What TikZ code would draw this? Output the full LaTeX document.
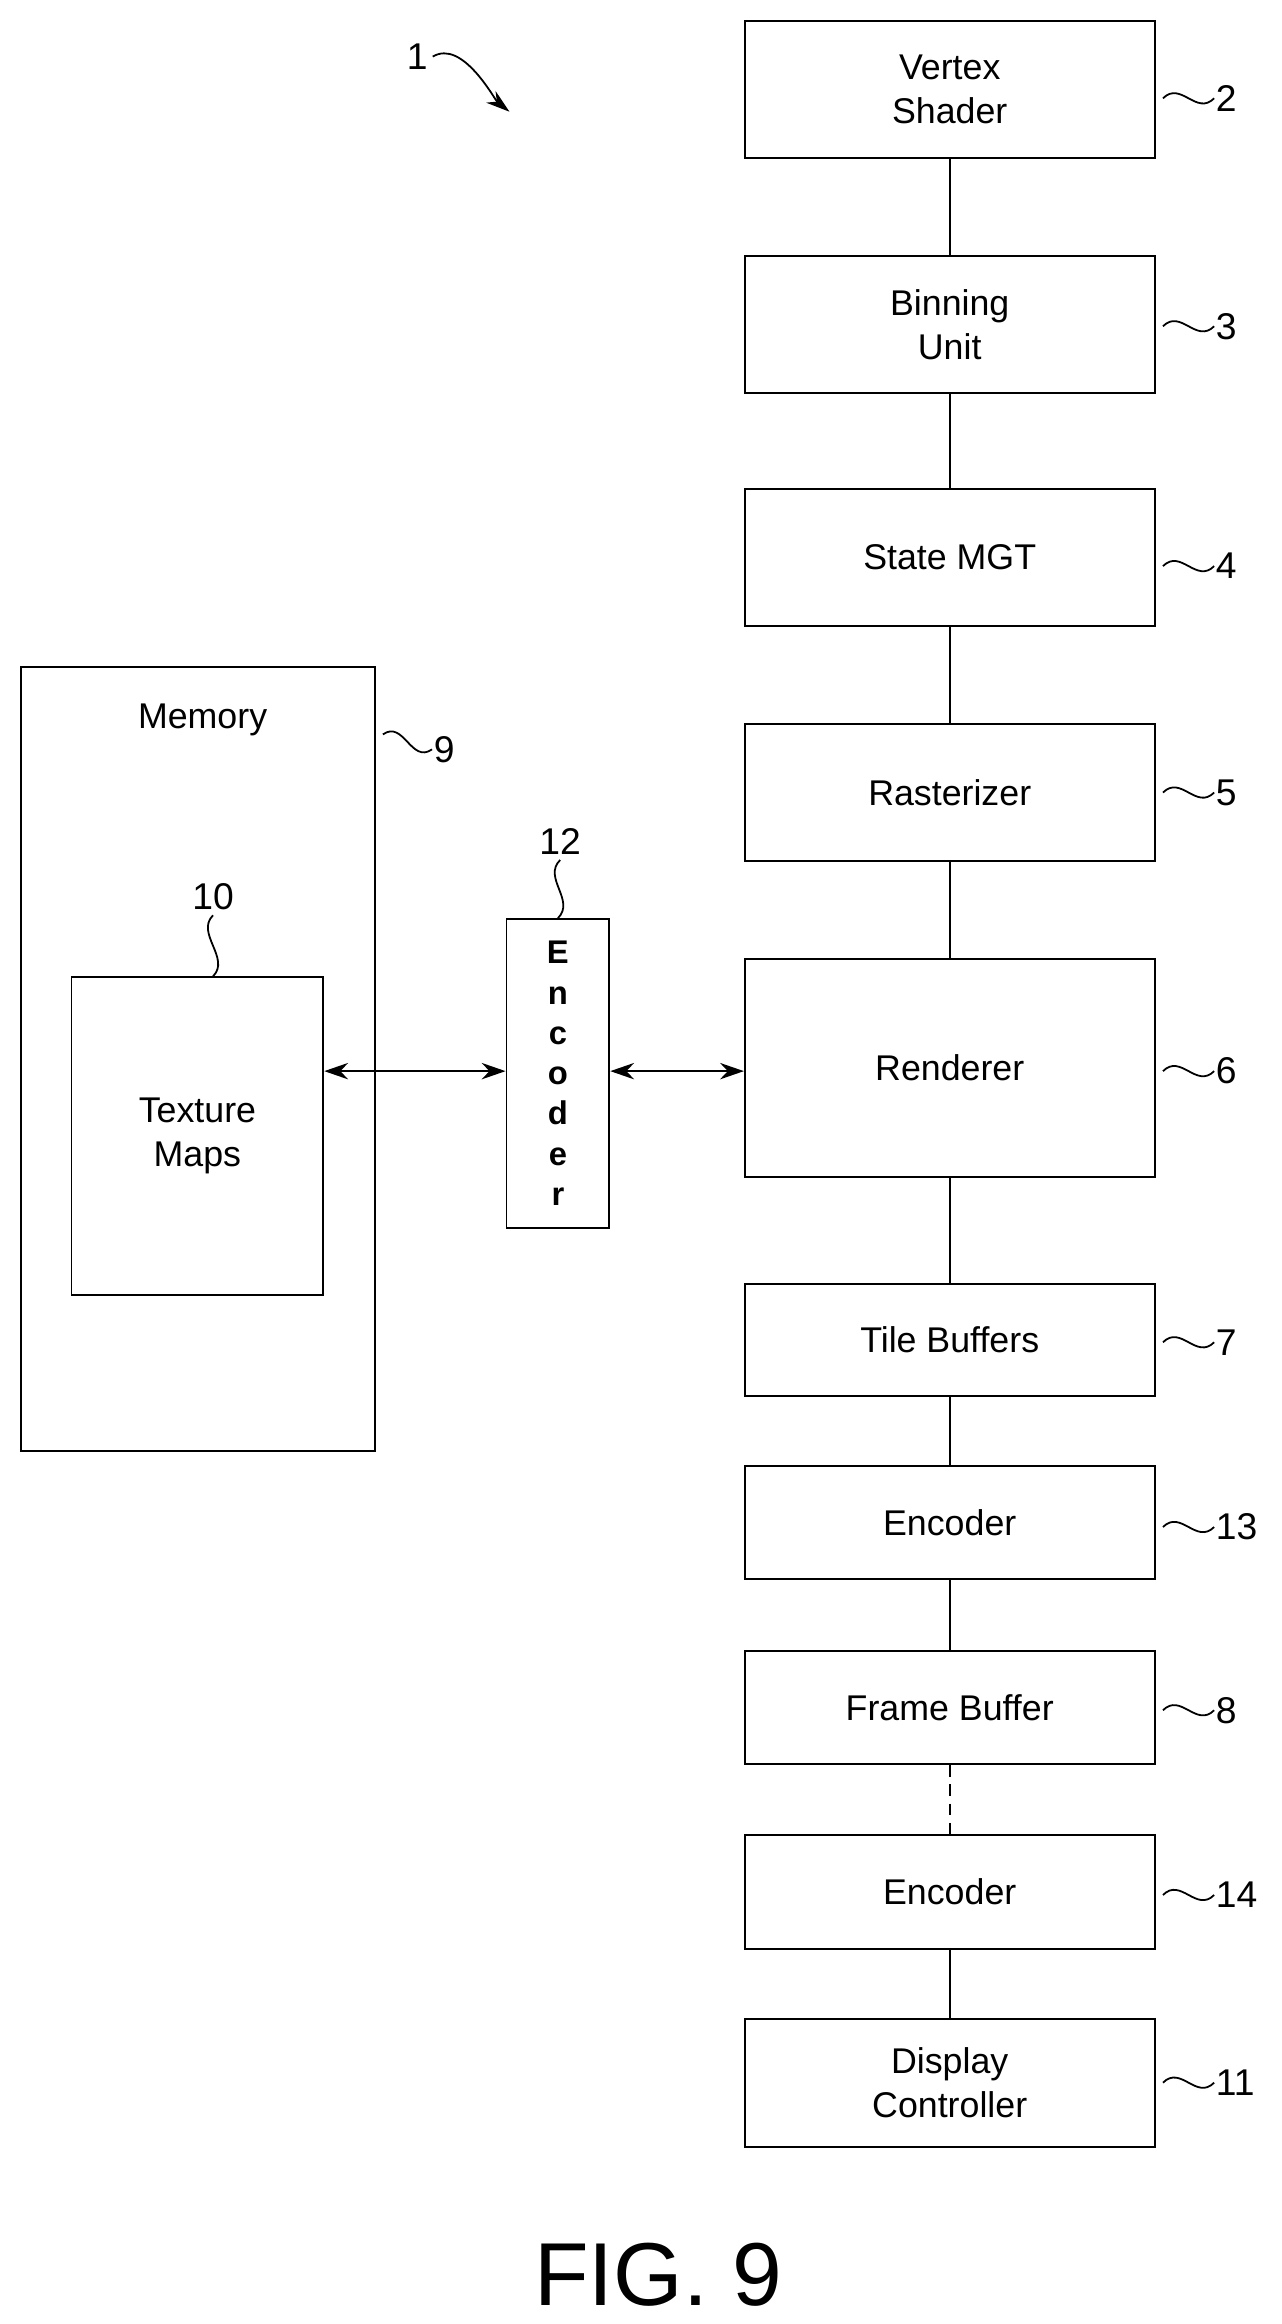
\documentclass[tikz,border=0pt]{standalone}
\usepackage{fontspec}
\setmainfont{Liberation Sans}
\usetikzlibrary{arrows.meta}
\begin{document}
\begin{tikzpicture}[x=1pt,y=-1pt,
  box/.style={draw,line width=1.3pt,align=center,font=\fontsize{24}{29}\selectfont,inner sep=0pt},
  lab/.style={font=\fontsize{25}{30}\selectfont,anchor=west,inner sep=1pt},
  sq/.style={line width=1.2pt},
  conn/.style={line width=1.2pt},
  dar/.style={line width=1.2pt,{Stealth[length=16pt,width=11pt]}-{Stealth[length=16pt,width=11pt]}}]
\useasboundingbox (0,0) rectangle (860,1560);
\def\bx#1#2#3#4{\node[box,minimum width=275pt,minimum height=#3pt] (#1) at (637.5,#2) {#4};}
\bx{vs}{60}{92}{Vertex\\Shader}
\bx{bu}{218}{92}{Binning\\Unit}
\bx{sm}{374}{92}{State MGT}
\bx{ra}{532}{92}{Rasterizer}
\bx{re}{717}{146}{Renderer}
\bx{tb}{899.5}{75}{Tile Buffers}
\bx{e13}{1022}{76}{Encoder}
\bx{fb}{1146}{76}{Frame Buffer}
\bx{e14}{1270}{76}{Encoder}
\bx{dc}{1398}{86}{Display\\Controller}
\draw[conn] (vs) -- (bu); \draw[conn] (bu) -- (sm); \draw[conn] (sm) -- (ra);
\draw[conn] (ra) -- (re); \draw[conn] (re) -- (tb); \draw[conn] (tb) -- (e13);
\draw[conn] (e13) -- (fb); \draw[conn,dashed,dash pattern=on 8pt off 5pt] (fb) -- (e14); \draw[conn] (e14) -- (dc);
\node[draw,line width=1.3pt,minimum width=238pt,minimum height=526pt,inner sep=0pt] (mem) at (133,711) {};
\node[font=\fontsize{24}{29}\selectfont] (memt) at (136,483) {Memory};
\node[box,minimum width=169pt,minimum height=213pt] (tm) at (132.5,762.5) {Texture\\Maps};
\node[box,minimum width=69pt,minimum height=207pt,font=\bfseries\fontsize{22}{27}\selectfont] (enc) at (374.5,720.5) {E\\n\\c\\o\\d\\e\\r};
\draw[dar] (tm.east |- 0,719) -- (enc.west |- 0,719);
\draw[dar] (enc.east |- 0,719) -- (re.west |- 0,719);
\foreach \b/\y/\t in {vs/66/2,bu/219/3,sm/380/4,ra/532/5,re/719/6,tb/901/7,e13/1025/13,fb/1148/8,e14/1272/14,dc/1398/11}{
  \node[lab] (l\b) at (815,\y) {\t};
  \draw[sq] (\b.east |- l\b.west) ++(5,0) coordinate (s\b) .. controls +(12,-12) and +(-12,12) .. (l\b.west);
}
\node[lab] (l9) at (290,503) {9};
\draw[sq] (257,493) .. controls +(14,-10) and +(-14,10) .. (l9.west);
\node[font=\fontsize{25}{30}\selectfont] (l10) at (143,602) {10};
\draw[sq] (l10.south) .. controls +(-12,12) and +(12,-12) .. (tm.north -| 143,0);
\node[font=\fontsize{25}{30}\selectfont] (l12) at (376,565) {12};
\draw[sq] (l12.south) .. controls +(-12,12) and +(12,-12) .. (enc.north);
\node[font=\fontsize{25}{30}\selectfont] (l1) at (280,38) {1};
\coordinate (a1) at (342,75);
\draw[line width=1.2pt,-{Stealth[length=16pt,width=10pt]}] (l1.east) .. controls +(20,-12) and +(-10,-8) .. (a1);
\node[font=\fontsize{60}{70}\selectfont] (fig) at (442,1527) {FIG. 9};
\end{tikzpicture}
\end{document}
